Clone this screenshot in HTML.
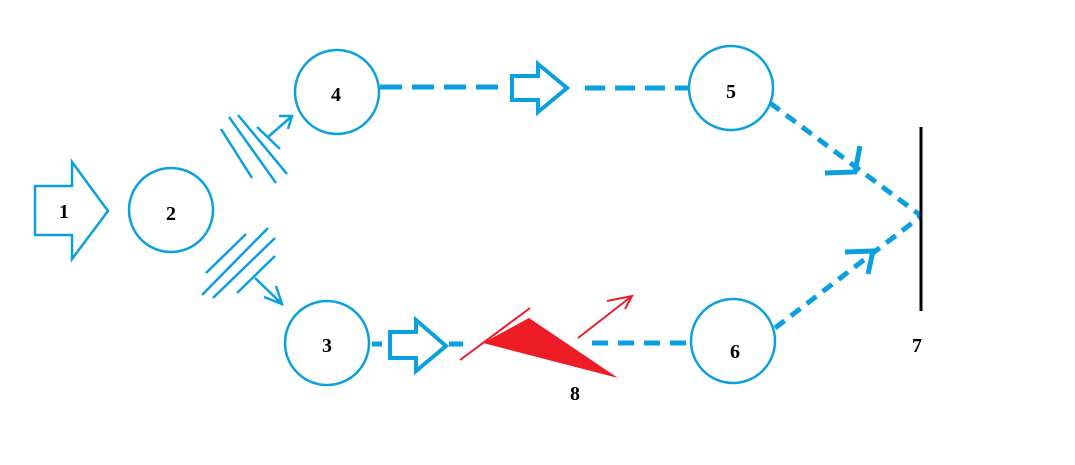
<!DOCTYPE html>
<html><head><style>body{margin:0;background:#fff}</style></head><body>
<svg width="1075" height="460" viewBox="0 0 1075 460" xmlns="http://www.w3.org/2000/svg">
<g fill="none" stroke="#0aa0e0" stroke-width="2.5">
<circle cx="171" cy="210" r="42"/>
<circle cx="337" cy="92" r="42"/>
<circle cx="327" cy="343" r="42"/>
<circle cx="731" cy="88" r="42"/>
<circle cx="733" cy="341" r="42"/>
<polygon points="35,186 72,186 72,162 108,211 72,259 72,235 35,235"/>
<polygon points="512,76 538,76 538,64 567,88 538,112 538,100 512,100" stroke-width="4"/>
<polygon points="390,332 416,332 416,320 446,346 416,371 416,358 390,358" stroke-width="4"/>
<line x1="221" y1="129" x2="252" y2="178"/>
<line x1="229" y1="117" x2="276" y2="183"/>
<line x1="238" y1="115" x2="287" y2="174"/>
<line x1="257" y1="127" x2="280" y2="149"/>
<line x1="268" y1="137" x2="292" y2="116"/>
<polyline points="279,116 292,116 288,129"/>
<line x1="206" y1="273" x2="246" y2="234"/>
<line x1="202" y1="295" x2="268" y2="228"/>
<line x1="213" y1="298" x2="275" y2="238"/>
<line x1="237" y1="293" x2="275" y2="256"/>
<line x1="255" y1="278" x2="282" y2="304"/>
<polyline points="264,297 282,304 276,286"/>
</g>
<g stroke="#0aa0e0" stroke-width="5" fill="none">
<line x1="380" y1="87" x2="500" y2="87" stroke-dasharray="22,10"/>
<line x1="585" y1="88" x2="688" y2="88" stroke-dasharray="20,10"/>
<line x1="372" y1="344" x2="382" y2="344"/>
<line x1="449" y1="344" x2="463" y2="344"/>
<line x1="592" y1="343" x2="688" y2="343" stroke-dasharray="16,10"/>
<line x1="770" y1="103" x2="920" y2="215" stroke-dasharray="12,8"/>
<line x1="775" y1="328" x2="920" y2="217" stroke-dasharray="12,8"/>
<polyline points="825,173 855,172 860,146"/>
<polyline points="845,252 873,251 868,274"/>
</g>
<line x1="921" y1="127" x2="921" y2="311" stroke="#000" stroke-width="3"/>
<polygon points="483,343 529,318 618,378" fill="#ee1c24"/>
<line x1="460" y1="360" x2="530" y2="308" stroke="#ee1c24" stroke-width="2"/>
<line x1="578" y1="338" x2="632" y2="296" stroke="#ee1c24" stroke-width="2"/>
<polyline points="607,301 632,296 625,309" fill="none" stroke="#ee1c24" stroke-width="2"/>
<g font-family="Liberation Serif, serif" font-weight="bold" font-size="20" text-anchor="middle" fill="#000">
<text x="64" y="218">1</text>
<text x="171" y="220">2</text>
<text x="336" y="101">4</text>
<text x="327" y="352">3</text>
<text x="731" y="98">5</text>
<text x="735" y="358">6</text>
<text x="917" y="352">7</text>
<text x="575" y="400">8</text>
</g>
</svg>
</body></html>
